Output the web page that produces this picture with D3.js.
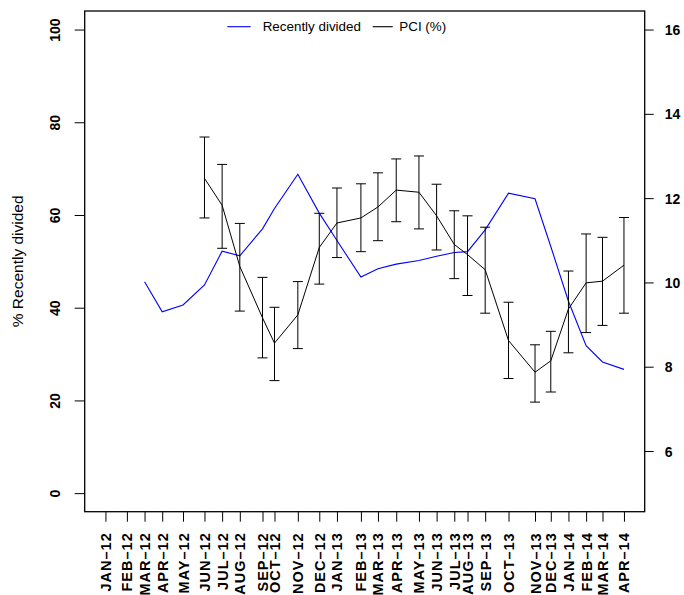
<!DOCTYPE html>
<html>
<head>
<meta charset="utf-8">
<script src="https://cdn.jsdelivr.net/npm/d3@7"></script>
<style>
  html, body { margin: 0; padding: 0; background: #fff; }
  svg { display: block; font-family: "Liberation Sans", Arial, Helvetica, sans-serif; }
</style>
</head>
<body>
<svg id="chart" width="684" height="595"></svg>
<script>
// Sampling month labels and sampling dates
const monthLabels = ["JAN–12","FEB–12","MAR–12","APR–12","MAY–12","JUN–12","JUL–12","AUG–12",
  "SEP–12","OCT–12","NOV–12","DEC–12","JAN–13","FEB–13","MAR–13","APR–13","MAY–13","JUN–13",
  "JUL–13","AUG–13","SEP–13","OCT–13","NOV–13","DEC–13","JAN–14","FEB–14","MAR–14","APR–14"];
const sampleDates = ["2012-01-10","2012-02-13","2012-03-12","2012-04-09","2012-05-12","2012-06-15",
  "2012-07-13","2012-08-10","2012-09-15","2012-10-04","2012-11-10","2012-12-14","2013-01-11",
  "2013-02-18","2013-03-17","2013-04-15","2013-05-21","2013-06-18","2013-07-16","2013-08-06",
  "2013-09-03","2013-10-10","2013-11-21","2013-12-16","2014-01-13","2014-02-10","2014-03-08",
  "2014-04-11"];

// % recently divided cells (left axis)
const recentlyDivided = [null, null, 45.6, 39.1, 40.6, 44.9, 52.2, 51.2, 57.0, 61.4, 68.8, 60.4,
  54.5, 46.6, 48.4, 49.4, 50.2, 51.1, 51.9, 52.1, 56.8, 64.7, 63.5, 53.2, 41.4, 31.8, 28.3, 26.7];

// PCI (%) mean with lower / upper error limits (right axis)
const pciMean = [null, null, null, null, null, 12.47, 11.83, 10.38, 9.16, 8.56, 9.23, 10.83,
  11.41, 11.53, 11.79, 12.19, 12.14, 11.58, 10.90, 10.66, 10.30, 8.62, 7.87, 8.14, 9.37, 9.99,
  10.03, 10.41];
const pciLower = [null, null, null, null, null, 11.53, 10.81, 9.32, 8.21, 7.67, 8.43, 9.96,
  10.59, 10.73, 10.99, 11.44, 11.27, 10.77, 10.09, 9.69, 9.27, 7.72, 7.16, 7.40, 8.33, 8.81,
  8.98, 9.27];
const pciUpper = [null, null, null, null, null, 13.45, 12.80, 11.40, 10.12, 9.41, 10.02, 11.64,
  12.24, 12.34, 12.60, 12.93, 13.00, 12.33, 11.70, 11.58, 11.31, 9.53, 8.52, 8.84, 10.27, 11.15,
  11.07, 11.54];

const leftTicks = [0, 20, 40, 60, 80, 100];
const rightTicks = [6, 8, 10, 12, 14, 16];
const seriesNames = ["Recently divided", "PCI (%)"];
const seriesColors = ["#0000ff", "#000000"];

const svg = d3.select("#chart");
const plot = { left: 84.7, right: 644.7, top: 11, bottom: 511.7 };

const parse = d3.timeParse("%Y-%m-%d");
const dates = sampleDates.map(parse);

// R-style 4% padding around the data range
const [d0, d1] = d3.extent(dates);
const pad = (d1 - d0) * 0.04;
const x = d3.scaleTime()
  .domain([new Date(+d0 - pad), new Date(+d1 + pad)])
  .range([plot.left, plot.right]);

const yLeft = d3.scaleLinear().domain([-4, 104]).range([plot.bottom, plot.top]);
const yRight = d3.scaleLinear().domain([5 - 0.44, 16 + 0.44]).range([plot.bottom, plot.top]);

const rows = dates.map((d, i) => ({
  date: d, label: monthLabels[i], rd: recentlyDivided[i],
  m: pciMean[i], lo: pciLower[i], hi: pciUpper[i]
}));

// Left axis: rotated numeric labels
const gL = svg.append("g").attr("transform", `translate(${plot.left},0)`)
  .call(d3.axisLeft(yLeft).tickValues(leftTicks).tickSize(10).tickPadding(0));
gL.select(".domain").remove();
gL.selectAll(".tick line").attr("stroke", "#000");
gL.selectAll(".tick text")
  .attr("x", 0).attr("dy", null)
  .attr("transform", "translate(-29.7,0) rotate(-90)")
  .attr("text-anchor", "middle")
  .attr("dominant-baseline", "central")
  .attr("font-size", 14).attr("font-weight", "bold")
  .attr("font-family", "Liberation Sans, Arial, sans-serif")
  .attr("fill", "#000");

// Right axis
const gR = svg.append("g").attr("transform", `translate(${plot.right},0)`)
  .call(d3.axisRight(yRight).tickValues(rightTicks).tickSize(9).tickPadding(11));
gR.select(".domain").remove();
gR.selectAll(".tick line").attr("stroke", "#000");
gR.selectAll(".tick text")
  .attr("dy", null).attr("dominant-baseline", "central")
  .attr("font-size", 14).attr("font-weight", "bold")
  .attr("font-family", "Liberation Sans, Arial, sans-serif")
  .attr("fill", "#000");

// Bottom axis with vertical month labels
const gB = svg.append("g").attr("transform", `translate(0,${plot.bottom})`)
  .call(d3.axisBottom(x).tickValues(dates).tickSize(10)
    .tickFormat((d, i) => monthLabels[i]));
gB.select(".domain").remove();
gB.selectAll(".tick line").attr("stroke", "#000");
gB.selectAll(".tick text")
  .attr("y", 0).attr("dy", null)
  .attr("transform", "translate(0,20.6) rotate(-90)")
  .attr("text-anchor", "end")
  .attr("dominant-baseline", "central")
  .attr("font-size", 14.5).attr("font-weight", "bold")
  .attr("letter-spacing", "1px")
  .attr("font-family", "Liberation Sans, Arial, sans-serif")
  .attr("fill", "#000");

// Plot frame
svg.append("rect")
  .attr("x", plot.left).attr("y", plot.top)
  .attr("width", plot.right - plot.left).attr("height", plot.bottom - plot.top)
  .attr("fill", "none").attr("stroke", "#000").attr("stroke-width", 1.3);

// Left axis title
svg.append("text")
  .attr("transform", `translate(17,${(plot.top + plot.bottom) / 2}) rotate(-90)`)
  .attr("text-anchor", "middle").attr("dominant-baseline", "central")
  .attr("font-size", 15.5).attr("fill", "#000")
  .text("% Recently divided");

// Recently divided line
const lineRD = d3.line().defined(d => d.rd != null)
  .x(d => x(d.date)).y(d => yLeft(d.rd));
svg.append("path").datum(rows)
  .attr("d", lineRD).attr("fill", "none")
  .attr("stroke", seriesColors[0]).attr("stroke-width", 1.1);

// PCI line with error bars
const pciRows = rows.filter(d => d.m != null);
const lineP = d3.line().x(d => x(d.date)).y(d => yRight(d.m));
svg.append("path").datum(pciRows)
  .attr("d", lineP).attr("fill", "none")
  .attr("stroke", seriesColors[1]).attr("stroke-width", 1);

const cap = 5;
const eb = svg.append("g").attr("stroke", "#000").attr("stroke-width", 1);
eb.selectAll("line.v").data(pciRows).join("line")
  .attr("x1", d => x(d.date)).attr("x2", d => x(d.date))
  .attr("y1", d => yRight(d.lo)).attr("y2", d => yRight(d.hi));
eb.selectAll("line.t").data(pciRows).join("line")
  .attr("x1", d => x(d.date) - cap).attr("x2", d => x(d.date) + cap)
  .attr("y1", d => yRight(d.hi)).attr("y2", d => yRight(d.hi));
eb.selectAll("line.b").data(pciRows).join("line")
  .attr("x1", d => x(d.date) - cap).attr("x2", d => x(d.date) + cap)
  .attr("y1", d => yRight(d.lo)).attr("y2", d => yRight(d.lo));

// Legend
const legend = svg.append("g").attr("font-size", 13.4);
const legendItems = [
  { name: seriesNames[0], color: seriesColors[0], x0: 227.3, x1: 250.7, tx: 262.7 },
  { name: seriesNames[1], color: seriesColors[1], x0: 372.7, x1: 392.7, tx: 399.3 }
];
legendItems.forEach(it => {
  legend.append("line").attr("x1", it.x0).attr("x2", it.x1)
    .attr("y1", 26.7).attr("y2", 26.7)
    .attr("stroke", it.color).attr("stroke-width", 1.1);
  legend.append("text").attr("x", it.tx).attr("y", 26.7)
    .attr("dominant-baseline", "central").attr("fill", "#000")
    .text(it.name);
});
</script>
</body>
</html>
